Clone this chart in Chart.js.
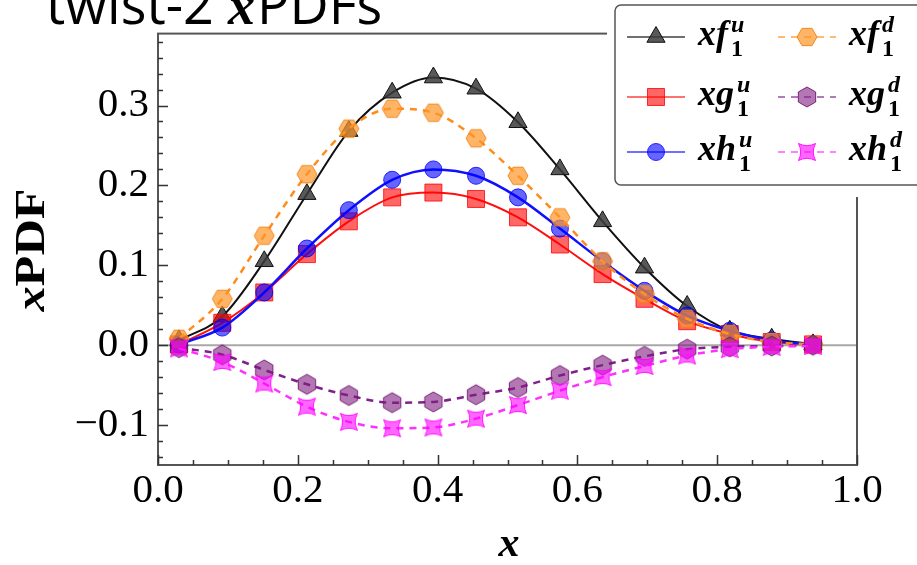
<!DOCTYPE html>
<html>
<head>
<meta charset="utf-8">
<script src="https://cdn.jsdelivr.net/npm/chart.js@4.4.0/dist/chart.umd.min.js"></script>
<style>
html, body { margin: 0; padding: 0; background: #fff; }
#wrap { width: 917px; height: 565px; }
</style>
</head>
<body>
<div id="wrap"><canvas id="myChart" width="917" height="565"></canvas></div>
<script>
// data
const xVals = [0.030, 0.092, 0.152, 0.213, 0.273, 0.335, 0.394, 0.455, 0.515, 0.575, 0.636, 0.696, 0.757, 0.818, 0.878, 0.937];

const xf1u = [0.006, 0.036, 0.105, 0.189, 0.268, 0.316, 0.335, 0.321, 0.279, 0.220, 0.155, 0.097, 0.049, 0.018, 0.008, 0.001];
const xg1u = [0.001, 0.028, 0.066, 0.114, 0.155, 0.185, 0.191, 0.183, 0.160, 0.126, 0.089, 0.058, 0.030, 0.014, 0.004, 0.001];
const xh1u = [0.001, 0.022, 0.066, 0.121, 0.169, 0.207, 0.220, 0.212, 0.185, 0.146, 0.105, 0.068, 0.037, 0.018, 0.006, 0.001];
const xf1d = [0.008, 0.058, 0.137, 0.214, 0.271, 0.296, 0.291, 0.259, 0.212, 0.160, 0.105, 0.064, 0.033, 0.014, 0.004, 0.001];
const xg1d = [-0.003, -0.012, -0.031, -0.049, -0.063, -0.072, -0.071, -0.062, -0.053, -0.038, -0.025, -0.014, -0.005, -0.002, -0.001, 0.000];
const xh1d = [-0.004, -0.021, -0.048, -0.077, -0.096, -0.104, -0.103, -0.092, -0.075, -0.057, -0.040, -0.026, -0.013, -0.005, -0.002, -0.001];

const legendBase = ['xf', 'xg', 'xh', 'xf', 'xg', 'xh'];
const legendSup = ['u', 'u', 'u', 'd', 'd', 'd'];
const legendSub = ['1', '1', '1', '1', '1', '1'];

const xTickVals = [0, 0.2, 0.4, 0.6, 0.8, 1.0];
const yTickVals = [-0.1, 0, 0.1, 0.2, 0.3];

const SERIF = '"Liberation Serif", "DejaVu Serif", serif';

// custom marker shapes
function hexagon(r, pointyTop, fill, stroke) {
    const s = Math.ceil(2 * r + 4);
    const c = document.createElement('canvas');
    c.width = s; c.height = s;
    const g = c.getContext('2d');
    g.beginPath();
    for (let i = 0; i < 6; i++) {
        const a = (pointyTop ? -Math.PI / 2 : 0) + i * Math.PI / 3;
        const px = s / 2 + r * Math.cos(a), py = s / 2 + r * Math.sin(a);
        if (i) g.lineTo(px, py); else g.moveTo(px, py);
    }
    g.closePath();
    g.fillStyle = fill; g.fill();
    g.strokeStyle = stroke; g.lineWidth = 1; g.stroke();
    return c;
}

function star4(r, fill, stroke) {
    const s = Math.ceil(2 * r + 4);
    const c = document.createElement('canvas');
    c.width = s; c.height = s;
    const g = c.getContext('2d');
    const cx = s / 2, cy = s / 2;
    g.beginPath();
    for (let i = 0; i < 4; i++) {
        const a = Math.PI / 4 + i * Math.PI / 2;
        const b = a + Math.PI / 4;
        const px = cx + r * Math.cos(a), py = cy + r * Math.sin(a);
        if (i) g.lineTo(px, py); else g.moveTo(px, py);
        g.quadraticCurveTo(cx + r * 0.35 * Math.cos(b), cy + r * 0.35 * Math.sin(b),
            cx + r * Math.cos(a + Math.PI / 2), cy + r * Math.sin(a + Math.PI / 2));
    }
    g.closePath();
    g.fillStyle = fill; g.fill();
    g.strokeStyle = stroke; g.lineWidth = 1; g.stroke();
    return c;
}

const hexOrange = hexagon(10, false, 'rgba(255,150,40,0.7)', 'rgba(240,130,20,0.9)');
const hexPurple = hexagon(10, true, 'rgba(128,30,128,0.6)', 'rgba(110,20,110,0.9)');
const starMagenta = star4(12, 'rgba(255,0,255,0.6)', 'rgba(255,0,255,0.9)');

function pts(ys) {
    return ys.map((y, i) => ({ x: xVals[i], y: y }));
}

const datasets = [
    {
        data: pts(xf1u), borderColor: '#111', borderWidth: 2,
        pointStyle: 'triangle', pointRadius: 10.5,
        pointBackgroundColor: 'rgba(60,60,60,0.85)', pointBorderColor: '#111', pointBorderWidth: 1,
        order: 6
    },
    {
        data: pts(xg1u), borderColor: '#ff1010', borderWidth: 2,
        pointStyle: 'rect', pointRadius: 12,
        pointBackgroundColor: 'rgba(255,0,0,0.6)', pointBorderColor: 'rgba(255,0,0,0.8)', pointBorderWidth: 1,
        order: 5
    },
    {
        data: pts(xh1u), borderColor: '#1010ff', borderWidth: 2.5,
        pointStyle: 'circle', pointRadius: 8.5,
        pointBackgroundColor: 'rgba(0,0,255,0.6)', pointBorderColor: 'rgba(0,0,255,0.8)', pointBorderWidth: 1,
        order: 4
    },
    {
        data: pts(xf1d), borderColor: '#ff8c1a', borderWidth: 2.5, borderDash: [7, 6],
        pointStyle: hexOrange, pointRadius: 10,
        order: 3
    },
    {
        data: pts(xg1d), borderColor: '#80208a', borderWidth: 2.5, borderDash: [7, 6],
        pointStyle: hexPurple, pointRadius: 10,
        order: 2
    },
    {
        data: pts(xh1d), borderColor: '#ff30ff', borderWidth: 2.5, borderDash: [7, 6],
        pointStyle: starMagenta, pointRadius: 12,
        order: 1
    }
];
datasets.forEach(d => { d.cubicInterpolationMode = 'monotone'; d.fill = false; });

// frame, inward ticks and zero line
const framePlugin = {
    id: 'frame',
    beforeDraw(chart) {
        const ctx = chart.ctx;
        ctx.save();
        ctx.fillStyle = '#fff';
        ctx.fillRect(0, 0, chart.width, chart.height);
        ctx.restore();
    },
    beforeDatasetsDraw(chart) {
        const ctx = chart.ctx;
        const a = chart.chartArea;
        const xs = chart.scales.x, ys = chart.scales.y;
        ctx.save();
        // zero line
        const y0 = ys.getPixelForValue(0);
        ctx.strokeStyle = '#a8a8a8';
        ctx.lineWidth = 2;
        ctx.beginPath(); ctx.moveTo(a.left, y0); ctx.lineTo(a.right, y0); ctx.stroke();
        // frame
        ctx.strokeStyle = '#555';
        ctx.lineWidth = 2;
        ctx.strokeRect(a.left, a.top, a.right - a.left, a.bottom - a.top);
        // ticks
        ctx.strokeStyle = '#333';
        ctx.lineWidth = 1.5;
        ctx.beginPath();
        for (let i = -7; i <= 19; i++) {
            const py = Math.round(ys.getPixelForValue(i * 0.02)) + 0.5;
            const len = i % 5 === 0 ? 10 : 5;
            ctx.moveTo(a.left, py); ctx.lineTo(a.left + len, py);
        }
        for (let i = 0; i <= 20; i++) {
            const px = Math.round(xs.getPixelForValue(i * 0.05)) + 0.5;
            const len = i % 4 === 0 ? 10 : 5;
            ctx.moveTo(px, a.bottom); ctx.lineTo(px, a.bottom - len);
        }
        ctx.stroke();
        ctx.restore();
    },
    afterDraw(chart) {
        const ctx = chart.ctx;
        ctx.save();

        // title
        ctx.fillStyle = '#000';
        ctx.textBaseline = 'alphabetic';
        ctx.textAlign = 'left';
        let tx = 46;
        const ty = 24;
        ctx.font = '54px "Open Sans", "Noto Sans", sans-serif';
        ctx.fillText('twist-2 ', tx, ty);
        tx += ctx.measureText('twist-2 ').width;
        ctx.font = 'bold italic 54px ' + SERIF;
        ctx.fillText('x', tx, ty);
        tx += ctx.measureText('x').width + 2;
        ctx.font = '54px "Open Sans", "Noto Sans", sans-serif';
        ctx.fillText('PDFs', tx, ty);

        // y axis title
        ctx.save();
        ctx.translate(33, 250);
        ctx.rotate(-Math.PI / 2);
        ctx.scale(1.2, 1);
        ctx.font = 'bold italic 42px ' + SERIF;
        const wx = ctx.measureText('x').width;
        ctx.font = 'bold 42px ' + SERIF;
        const wp = ctx.measureText('PDF').width;
        let sx = -(wx + wp) / 2;
        ctx.textBaseline = 'middle';
        ctx.font = 'bold italic 42px ' + SERIF;
        ctx.fillText('x', sx, 0);
        ctx.font = 'bold 42px ' + SERIF;
        ctx.fillText('PDF', sx + wx, 0);
        ctx.restore();

        // x axis title
        ctx.font = 'bold italic 42px ' + SERIF;
        ctx.textAlign = 'center';
        ctx.textBaseline = 'middle';
        ctx.fillText('x', 509, 545);

        // legend
        const bx = 615, by = 5, bw = 330, bh = 180;
        ctx.fillStyle = '#fff';
        ctx.fillRect(bx - 8, 0, chart.width - bx + 8, by + bh + 12);
        ctx.strokeStyle = '#555';
        ctx.lineWidth = 1.5;
        ctx.beginPath();
        ctx.roundRect(bx, by, bw, bh, 6);
        ctx.stroke();

        const colX = [627, 778];
        const rowY = [37, 97, 152];
        datasets.forEach((d, i) => {
            const x0 = colX[i < 3 ? 0 : 1];
            const y = rowY[i % 3];
            ctx.save();
            ctx.globalAlpha = 0.6;
            ctx.strokeStyle = d.borderColor;
            ctx.lineWidth = 2;
            ctx.setLineDash(d.borderDash || []);
            ctx.beginPath(); ctx.moveTo(x0, y); ctx.lineTo(x0 + 58, y); ctx.stroke();
            ctx.restore();
            ctx.save();
            ctx.fillStyle = d.pointBackgroundColor || '#000';
            ctx.strokeStyle = d.pointBorderColor || '#000';
            ctx.lineWidth = 1;
            Chart.helpers.drawPoint(ctx, { pointStyle: d.pointStyle, radius: d.pointRadius, rotation: 0, borderWidth: 1 }, x0 + 29, y);
            ctx.restore();

            let lx = x0 + 71;
            ctx.fillStyle = '#000';
            ctx.textAlign = 'left';
            ctx.textBaseline = 'alphabetic';
            ctx.font = 'bold italic 36px ' + SERIF;
            ctx.fillText(legendBase[i], lx, y + 8);
            lx += ctx.measureText(legendBase[i]).width + 3;
            ctx.font = 'bold italic 24px ' + SERIF;
            ctx.fillText(legendSup[i], lx, y - 5);
            ctx.font = 'bold 24px ' + SERIF;
            ctx.fillText(legendSub[i], lx, y + 19);
        });

        ctx.restore();
    }
};

const config = {
    type: 'line',
    data: { datasets: datasets },
    options: {
        responsive: false,
        animation: false,
        devicePixelRatio: 1,
        layout: { padding: { left: 0, top: 33, right: 60, bottom: 0 } },
        plugins: {
            legend: { display: false },
            tooltip: { enabled: false }
        },
        scales: {
            x: {
                type: 'linear',
                min: 0,
                max: 1,
                afterFit: s => { s.height = 100; },
                afterBuildTicks: s => { s.ticks = xTickVals.map(v => ({ value: v })); },
                grid: { display: false, drawTicks: false },
                border: { display: false },
                ticks: {
                    padding: 2,
                    color: '#000',
                    font: { family: SERIF, size: 41 },
                    maxRotation: 0,
                    callback: v => v.toFixed(1)
                }
            },
            y: {
                min: -0.15,
                max: 0.39,
                afterFit: s => { s.width = 158; },
                afterBuildTicks: s => { s.ticks = yTickVals.map(v => ({ value: v })); },
                grid: { display: false, drawTicks: false },
                border: { display: false },
                ticks: {
                    padding: 9,
                    color: '#000',
                    font: { family: SERIF, size: 41 },
                    callback: v => v.toFixed(1).replace('-', '\u2212')
                }
            }
        }
    },
    plugins: [framePlugin]
};

const myChart = new Chart(
    document.getElementById('myChart'),
    config
);
</script>
</body>
</html>
